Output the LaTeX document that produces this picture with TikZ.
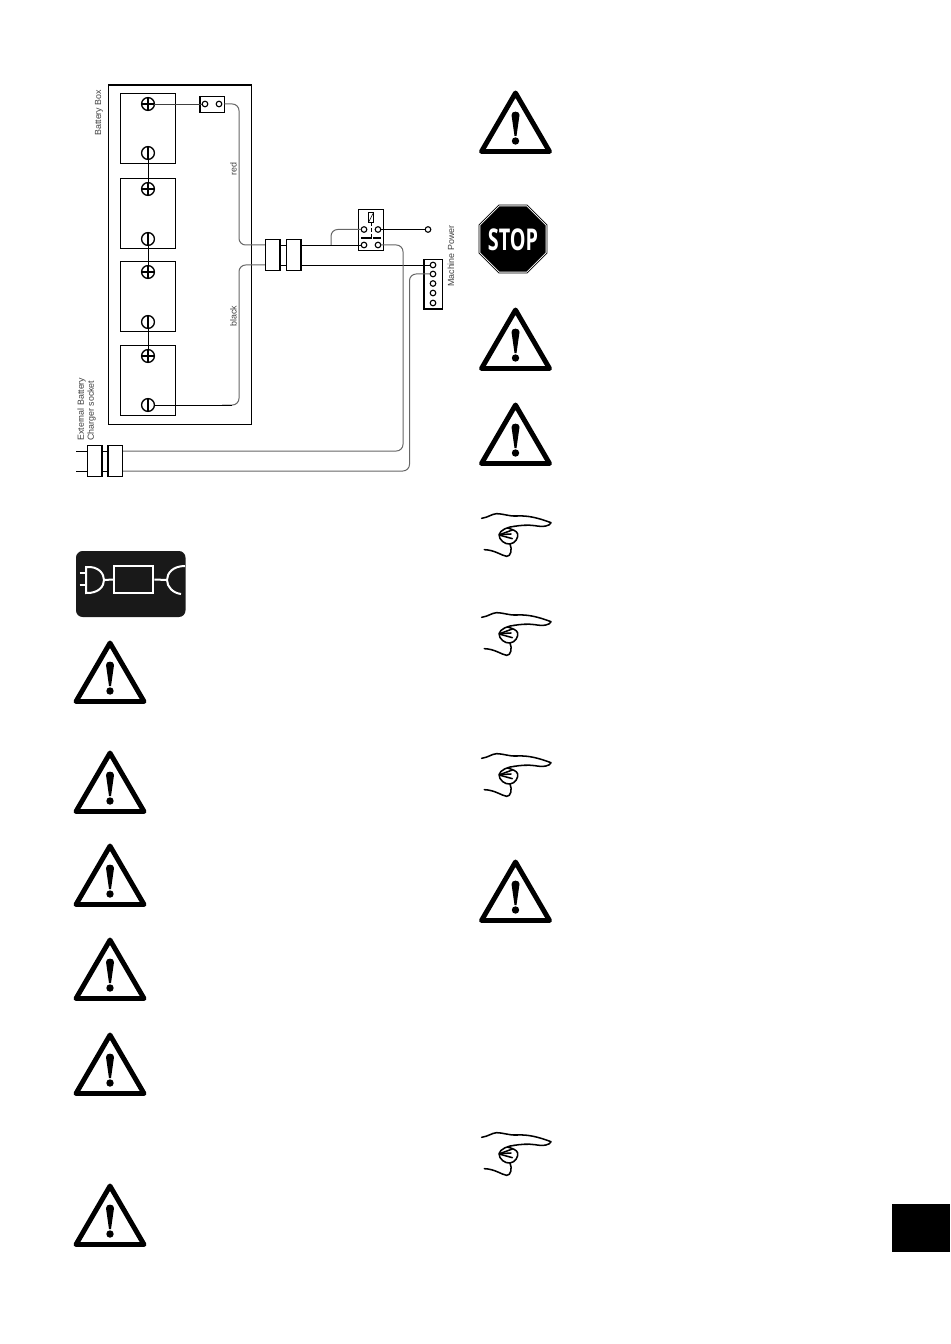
\documentclass[tikz,border=0pt]{standalone}
\usepackage{fontspec}
\usepackage{graphicx}
\setmainfont{Liberation Sans}
\newfontfamily\stopfont{Open Sans}
\usetikzlibrary{calc}
\tikzset{
  x=0.75pt,y=-0.75pt,
  frame/.style={draw=black,line width=1pt,inner sep=0,outer sep=0,fill=white},
  cell/.style={frame,draw=black,minimum width=41pt,minimum height=52.5pt},
  term/.style={circle,draw=black,line width=1pt,fill=white,inner sep=0,outer sep=0,minimum size=9.6pt},
  pin/.style={circle,draw=black,line width=0.85pt,fill=white,inner sep=0,outer sep=0,minimum size=4.2pt},
  wire/.style={draw=black,line width=0.65pt},
  thin wire/.style={draw=black!60,line width=0.75pt,rounded corners=5pt},
  blockbox/.style={frame,minimum width=11pt,minimum height=23.2pt},
  lab/.style={rotate=90,anchor=west,inner sep=0,text=black!75,font=\fontsize{6.65}{8}\selectfont},
  warnline/.style={draw=black,line width=3.7pt,line join=round},
  handline/.style={draw=black,line width=1.15pt,line cap=round,line join=round}
}
\newcommand{\warnsign}[2]{%
  \begin{scope}[shift={(#1,#2)}]
    \draw[warnline] (0,3) -- (-34,61.5) -- (34,61.5) -- cycle;
    \fill (-4,25) .. controls (-4,20.5) and (4,20.5) .. (4,25) -- (1,46) -- (-1,46) -- cycle;
    \fill (0,51) circle (3.7);
  \end{scope}}
\newcommand{\pointer}[2]{%
  \begin{scope}[shift={(#1,#2)},xscale=0.3333,yscale=0.3333]
    \draw[handline] (20,43) .. controls (40,40) and (50,30) .. (65,29)
       .. controls (85,29) and (100,37) .. (125,36)
       .. controls (160,34) and (190,42) .. (228,56)
       .. controls (225,66) and (205,70) .. (180,65)
       .. controls (160,62) and (135,64) .. (118,67);
    \draw[handline] (118,67) .. controls (100,68) and (75,78) .. (72,92)
       .. controls (72,108) and (90,122) .. (105,120)
       .. controls (122,118) and (130,100) .. (128,90)
       .. controls (126,80) and (110,76) .. (98,72);
    \draw[handline] (74,92) -- (112,78);
    \draw[handline] (74,92) -- (108,90);
    \draw[handline] (76,94) -- (112,104);
    \draw[handline] (105,120) .. controls (112,135) and (108,158) .. (95,157)
       .. controls (80,155) and (60,138) .. (28,137);
  \end{scope}}
\begin{document}
\begin{tikzpicture}
\useasboundingbox (0,0) rectangle (950,1344);
% battery box
\node[frame,minimum width=107.5pt,minimum height=254.3pt] (box) at (180,254.7) {};
\node[cell] (c1) at (148,128.3) {};
\node[cell] (c2) at (148,213.3) {};
\node[cell] (c3) at (148,296.5) {};
\node[cell] (c4) at (148,380.3) {};
\draw[wire] (148,153) -- (148,189);
\draw[wire] (148,239) -- (148,272);
\draw[wire] (148,322) -- (148,356);
\node[term] (p1) at (148,104) {};
\node[term] (m1) at (148,153) {};
\node[term] (p2) at (148,189) {};
\node[term] (m2) at (148,239) {};
\node[term] (p3) at (148,272) {};
\node[term] (m3) at (148,322) {};
\node[term] (p4) at (148,356) {};
\node[term] (m4) at (148,405) {};
\foreach \t in {p1,p2,p3,p4}{
  \draw[line width=0.8pt] (\t.west) -- (\t.east) (\t.north) -- (\t.south);}
\foreach \t in {m1,m2,m3,m4}{
  \draw[line width=0.8pt] (\t.north) -- (\t.south);}
% fuse
\node[frame,minimum width=18.4pt,minimum height=12pt] (fuse) at (212.2,104.5) {};
\node[pin] (f1) at (205,104) {};
\node[pin] (f2) at (219,104) {};
\draw[wire,draw=black!75,line width=0.6pt] (p1.east) -- (f1.west);
% connector blocks
\coordinate (rcorner1) at (239,104);
\coordinate (rcorner2) at (239,245);
\coordinate (bcorner1) at (239,405);
\coordinate (bcorner2) at (239,265);
\coordinate (a0) at (265,245);
\coordinate (a1) at (301,245);
\coordinate (b0) at (265,265);
\coordinate (b1) at (301,265);
\draw[thin wire] (fuse.east |- f2) -- (rcorner1) -- (rcorner2) -- (a0);
\draw[wire] (a0) -- (a1);
\draw[wire] (b0) -- (b1);
\draw[thin wire] (b0) -- (bcorner2) -- (bcorner1) -- (222,405);
\draw[wire] (m4.east) -- (232,405);
\node[blockbox] (k1) at (272.5,254.8) {};
\node[blockbox] (k2) at (293.5,254.8) {};
% relay
\node[frame,minimum width=18.8pt,minimum height=30.8pt] (relay) at (370.8,229.8) {};
\node[frame,line width=0.7pt,minimum width=4pt,minimum height=6.8pt] (coil) at (371,217.5) {};
\draw[line width=0.45pt] (369,221.5) -- (373,213.5);
\node[pin] (s1) at (364,229.5) {};
\node[pin] (s2) at (378,229.5) {};
\node[pin] (s3) at (364,245) {};
\node[pin] (s4) at (378,245) {};
\coordinate (bar) at (371,238);
\draw[line width=0.6pt,dash pattern=on 3pt off 1.5pt] (coil.south) -- (bar);
\draw[line width=0.8pt,dash pattern=on 8pt off 1pt on 7pt] (361,238) -- (381,238);
\draw[wire] (a1) -- (s3.west);
\coordinate (tap) at (331,245);
\draw[thin wire] (tap) -- (331,229.5) -- (s1.west);
\node[pin] (out) at (428,229.5) {};
\draw[wire] (s2.east) -- (out.west);
% machine power
\node[frame,minimum width=14pt,minimum height=37pt] (mp) at (433.3,284.3) {};
\node[pin] (t1) at (433,265) {};
\node[pin] (t2) at (433,274) {};
\node[pin] (t3) at (433,283.5) {};
\node[pin] (t4) at (433,293) {};
\node[pin] (t5) at (433,303) {};
\draw[wire] (b1) -- (t1.west);
% external charger
\coordinate (e1) at (76,451);
\coordinate (e2) at (76,471);
\coordinate (e3) at (122,451);
\coordinate (e4) at (122,471);
\draw[wire] (e1) -- (e3);
\draw[wire] (e2) -- (e4);
\draw[thin wire] (e3) -- (403,451) -- (403,245) -- (s4.east);
\draw[thin wire] (e4) -- (409.5,471) -- (409.5,274) -- (t2.west);
\node[blockbox] (x1) at (94.7,461) {};
\node[blockbox] (x2) at (115.3,461) {};
% labels
\node[lab] (l1) at (99,136) {Battery Box};
\node[lab] (l2) at (233.5,175.5) {red};
\node[lab] (l3) at (233.5,327) {black};
\node[lab] (l4) at (451,287) {Machine Power};
\node[lab] (l5) at (81.5,441) {External Battery};
\node[lab] (l6) at (91.5,441) {Charger socket};
% plug icon
\fill[black!90,rounded corners=5pt] (76,551) rectangle (185.5,617);
\begin{scope}[draw=white,line width=1.5pt]
  \node[draw=white,line width=1.5pt,fill=none,inner sep=0,minimum width=29.5pt,minimum height=20pt] (ib) at (133.8,579.5) {};
  \draw (86,567) .. controls (99,566) and (104,574) .. (104,580) .. controls (104,586) and (99,593.5) .. (86,593) -- cycle;
  \draw (79.5,573) -- (86,573);
  \draw (79.5,585) -- (86,585);
  \draw (104,580) -- (ib.west);
  \draw (ib.east) -- (167,580);
  \draw (185,566) .. controls (173,566) and (167,573) .. (167,580) .. controls (167,587) and (173,593) .. (181,594);
\end{scope}
% warning triangles
\warnsign{110}{640}
\warnsign{110}{750}
\warnsign{110}{843}
\warnsign{110}{937}
\warnsign{110}{1032}
\warnsign{110}{1183}
\warnsign{515.5}{90}
\warnsign{515.5}{307}
\warnsign{515.5}{402}
\warnsign{515.5}{859}
% stop sign
\draw[line width=0.6pt,fill=white] ($(513+36.8*0.924,239+36.8*0.383)$) -- ($(513+36.8*0.383,239+36.8*0.924)$) -- ($(513-36.8*0.383,239+36.8*0.924)$) -- ($(513-36.8*0.924,239+36.8*0.383)$) -- ($(513-36.8*0.924,239-36.8*0.383)$) -- ($(513-36.8*0.383,239-36.8*0.924)$) -- ($(513+36.8*0.383,239-36.8*0.924)$) -- ($(513+36.8*0.924,239-36.8*0.383)$) -- cycle;
\fill ($(513+35.3*0.924,239+35.3*0.383)$) -- ($(513+35.3*0.383,239+35.3*0.924)$) -- ($(513-35.3*0.383,239+35.3*0.924)$) -- ($(513-35.3*0.924,239+35.3*0.383)$) -- ($(513-35.3*0.924,239-35.3*0.383)$) -- ($(513-35.3*0.383,239-35.3*0.924)$) -- ($(513+35.3*0.383,239-35.3*0.924)$) -- ($(513+35.3*0.924,239-35.3*0.383)$) -- cycle;
\node[text=white,inner sep=0] (stoptext) at (513,239.5) {\scalebox{0.66}[1]{\stopfont\bfseries\fontsize{22.5}{24}\selectfont STOP}};
% pointing hands
\pointer{475}{504}
\pointer{475}{603}
\pointer{475}{744}
\pointer{475}{1123}
% page tab
\fill (892,1204) rectangle (950,1252);
\end{tikzpicture}
\end{document}
